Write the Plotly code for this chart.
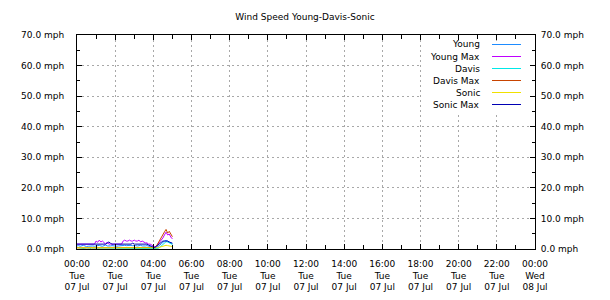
import plotly.graph_objects as go
import pandas as pd

# ---- data (5-minute samples, 00:00 .. 05:00 on Tue 07 Jul) ----
start = "2020-07-07 00:00"
n_samples = 61
times = pd.date_range(start, periods=n_samples, freq="5min")

young = [1.0, 1.1, 0.9, 1.0, 1.2, 1.0, 0.8, 0.9, 1.0, 1.1, 1.0, 0.9,
         1.0, 1.1, 1.2, 1.0, 0.9, 1.1, 1.3, 1.0, 0.9, 1.0, 1.1, 1.0,
         1.0, 0.9, 1.0, 1.1, 1.2, 1.3, 1.2, 1.1, 1.2, 1.3, 1.2, 1.1,
         1.2, 1.1, 1.0, 1.1, 1.2, 1.0, 0.9, 1.0, 1.1, 0.9, 0.8, 0.6,
         0.4, 0.3, 0.5, 0.8, 1.2, 1.7, 2.2, 2.6, 2.8, 2.6, 2.4, 2.0, 1.7]
young_max = [1.6, 1.6, 1.6, 1.6, 1.6, 1.6, 1.6, 1.6, 1.6, 1.6, 1.6, 1.6,
             2.6, 2.2, 2.9, 2.3, 2.6, 2.0, 1.6, 2.3, 1.6, 1.6, 1.6, 1.6,
             1.6, 1.6, 1.6, 1.6, 1.6, 2.6, 2.9, 2.6, 2.6, 2.9, 2.6, 2.6,
             2.9, 2.6, 2.6, 2.9, 2.3, 2.6, 2.3, 2.0, 2.0, 1.6, 1.6, 1.3,
             1.0, 0.7, 1.0, 1.6, 2.3, 3.0, 3.6, 4.6, 5.5, 4.6, 4.9, 3.9, 3.3]
davis = [0.5, 0.4, 0.3, 0.2, 0.0, 0.0, 0.0, 0.0, 0.3, 0.0, 0.0, 0.0,
         0.0, 0.0, 0.0, 0.0, 0.0, 0.0, 0.0, 0.0, 0.0, 0.0, 0.0, 0.0,
         0.0, 0.0, 0.0, 0.0, 0.0, 0.0, 0.0, 0.0, 0.0, 0.0, 0.0, 0.0,
         0.0, 0.0, 0.0, 0.0, 0.0, 0.0, 0.0, 0.0, 0.0, 0.0, 0.0, 0.0,
         0.0, 0.0, 0.0, 0.2, 0.5, 1.0, 1.5, 2.0, 2.4, 2.3, 2.1, 1.8, 1.5]
davis_max = [0.4, 0.4, 0.4, 0.4, 0.4, 0.4, 0.4, 0.4, 0.4, 0.4, 0.4, 0.4,
             0.4, 0.4, 0.4, 0.4, 0.4, 0.4, 0.4, 0.4, 0.4, 0.4, 0.4, 0.4,
             0.4, 0.4, 0.4, 0.4, 0.4, 0.4, 0.4, 0.4, 0.4, 0.4, 0.4, 0.4,
             0.4, 0.4, 0.4, 0.4, 0.4, 0.4, 0.4, 0.4, 0.4, 0.4, 0.4, 0.4,
             0.4, 0.5, 1.0, 2.0, 3.0, 4.0, 4.8, 5.6, 6.4, 5.2, 5.8, 4.6, 4.0]
sonic = [0.4, 0.4, 0.4, 0.4, 0.4, 0.4, 0.4, 0.4, 0.4, 0.4, 0.4, 0.4,
         0.4, 0.4, 0.4, 0.4, 0.4, 0.4, 0.4, 0.4, 0.4, 0.4, 0.4, 0.4,
         0.4, 0.4, 0.4, 0.4, 0.4, 0.4, 0.4, 0.4, 0.4, 0.4, 0.4, 0.4,
         0.4, 0.4, 0.4, 0.4, 0.4, 0.4, 0.4, 0.4, 0.4, 0.4, 0.3, 0.3,
         0.3, 0.2, 0.3, 0.4, 0.6, 0.8, 1.0, 1.1, 1.2, 1.1, 1.0, 0.9, 0.8]
sonic_max = [1.6, 1.6, 1.6, 1.6, 1.6, 1.6, 1.6, 1.6, 1.6, 1.6, 1.6, 1.6,
             1.6, 1.6, 1.6, 1.6, 1.6, 1.6, 1.6, 1.9, 2.3, 1.9, 1.6, 1.6,
             1.6, 1.6, 1.6, 1.6, 1.6, 1.6, 1.6, 1.6, 1.6, 1.6, 1.6, 1.9,
             1.6, 1.6, 1.6, 1.6, 1.6, 1.6, 1.6, 1.6, 1.6, 1.3, 1.0, 0.7,
             0.6, 0.5, 0.9, 1.3, 1.9, 2.3, 2.6, 2.6, 2.6, 2.6, 2.3, 2.0, 1.9]

series_names = ["Young", "Young Max", "Davis", "Davis Max", "Sonic", "Sonic Max"]
series_values = [young, young_max, davis, davis_max, sonic, sonic_max]
series_colors = ["#1e8cff", "#c000ff", "#00e8e8", "#c84400", "#f0e000", "#0000b4"]

tick_times = ["2020-07-07 %02d:00" % h for h in range(0, 24, 2)] + ["2020-07-08 00:00"]
tick_labels = ["%02d:00<br>Tue<br>07 Jul" % h for h in range(0, 24, 2)] + ["00:00<br>Wed<br>08 Jul"]
y_ticks = [0, 10, 20, 30, 40, 50, 60, 70]
y_labels = ["%.1f mph" % v for v in y_ticks]

FONT = "DejaVu Sans"
FS = 9
W, H = 610, 300
ML, MR, MT, MB = 77, 75, 35, 51
PW, PH = W - ML - MR, H - MT - MB

fig = go.Figure()
for i, (name, vals, col) in enumerate(zip(series_names, series_values, series_colors)):
    fig.add_trace(go.Scatter(x=times, y=vals, mode="lines", name=name,
                             line=dict(color=col, width=1), showlegend=False,
                             yaxis="y2" if i == len(series_names) - 1 else "y"))

# custom legend (text right-aligned, sample line to the right)
fig.add_shape(type="rect", xref="paper", yref="paper", x0=0.753, x1=0.987,
              y0=0.64, y1=0.972, fillcolor="white", line_width=0, layer="above")
for i, (name, col) in enumerate(zip(series_names, series_colors)):
    py = 44.5 + 12 * i
    yy = (H - MB - py) / PH
    fig.add_annotation(xref="paper", yref="paper", x=(482 - ML) / PW, y=yy, text=name,
                       showarrow=False, xanchor="right", yanchor="middle",
                       font=dict(family=FONT, size=FS, color="black"))
    fig.add_shape(type="line", xref="paper", yref="paper",
                  x0=(492 - ML) / PW, x1=(521 - ML) / PW,
                  y0=yy, y1=yy, line=dict(color=col, width=1), layer="above")

axis_common = dict(showline=True, linecolor="black", linewidth=1, automargin=False,
                   ticks="inside", tickcolor="black", ticklen=5,
                   showgrid=True, gridcolor="#a8a8a8", griddash="2px,3px", gridwidth=1,
                   zeroline=False, tickfont=dict(family=FONT, size=FS, color="black"))

fig.update_layout(
    width=W, height=H,
    margin=dict(l=ML, r=MR, t=MT, b=MB),
    paper_bgcolor="white", plot_bgcolor="white",
    title=dict(text="Wind Speed Young-Davis-Sonic", x=0.5, xanchor="center",
               y=1 - 17 / 300, yanchor="middle",
               font=dict(family=FONT, size=FS, color="black")),
    xaxis=dict(range=["2020-07-07 00:00", "2020-07-08 00:00"], type="date",
               tickvals=tick_times, ticktext=tick_labels, mirror="ticks",
               ticklabelstandoff=6,
               minor=dict(ticks="inside", dtick=3600000, ticklen=4, tickcolor="black", showgrid=False),
               **axis_common),
    yaxis=dict(range=[0, 70], tickvals=y_ticks, ticktext=y_labels, mirror=True,
               ticklabelstandoff=10,
               minor=dict(ticks="inside", dtick=5, ticklen=3, tickcolor="black", showgrid=False),
               **axis_common),
    yaxis2=dict(range=[0, 70], overlaying="y", side="right", tickvals=y_ticks,
                ticktext=y_labels, showline=True, linecolor="black", ticks="inside",
                tickcolor="black", ticklen=5, showgrid=False, zeroline=False,
                ticklabelstandoff=3, automargin=False,
                minor=dict(ticks="inside", dtick=5, ticklen=3, tickcolor="black"),
                tickfont=dict(family=FONT, size=FS, color="black")),
)

fig.write_html("out.html")
